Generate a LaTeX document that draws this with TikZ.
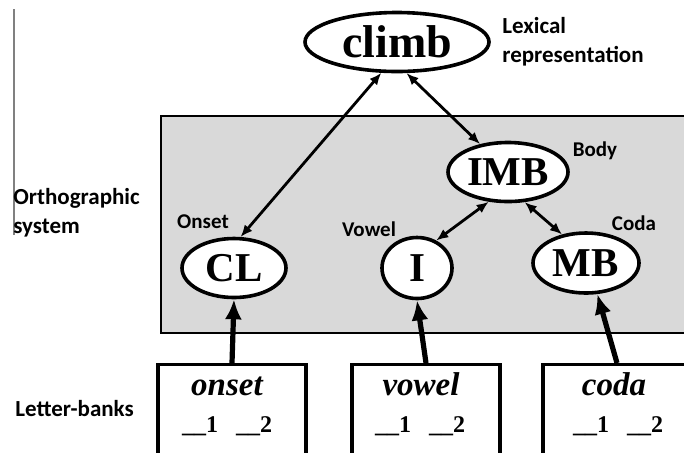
\documentclass[tikz,border=0pt]{standalone}
\usepackage{fontspec}
\setmainfont{Carlito}
\newfontfamily\tnr{Liberation Serif}
\usetikzlibrary{arrows.meta,positioning,shapes.geometric}

\newcommand\blankpos[1]{\_\_#1}

\tikzset{
  unit/.style={ellipse, draw, line width=1.8pt, fill=white, inner sep=0pt,
    font=\tnr\bfseries\fontsize{20.5}{22}\selectfont},
  bankbox/.style={rectangle, draw, line width=1.6pt, fill=white,
    minimum width=74pt, minimum height=50pt, anchor=north},
  bankword/.style={anchor=base, inner sep=0pt,
    font=\tnr\bfseries\itshape\fontsize{16.5}{18}\selectfont},
  bankslots/.style={anchor=base, inner sep=0pt,
    font=\tnr\bfseries\fontsize{12}{13}\selectfont},
  lbl/.style={font=\bfseries\fontsize{10.5}{12}\selectfont, inner sep=0pt},
  biglbl/.style={font=\bfseries\fontsize{11.5}{14.5}\selectfont, align=left, inner sep=0pt},
  link/.style={{Latex[length=6pt,width=5pt]}-{Latex[length=6pt,width=5pt]}, line width=1.4pt},
  feed/.style={-{Latex[length=10pt,width=8.5pt]}, line width=2.6pt},
}

\begin{document}
\begin{tikzpicture}[x=0.5pt, y=-0.5pt]
\useasboundingbox (0,0) rectangle (684,452);
\clip (0,0) rectangle (684,452);

% thin rule at the left
\draw[black!50, line width=0.7pt] (14,9) -- (14,235);

% orthographic system
\draw[fill=black!15, line width=1pt] (161,116) rectangle (700,333);

\node[unit, minimum width=92pt, minimum height=29.5pt,
      font=\tnr\bfseries\fontsize{23}{25}\selectfont] (climb) at (397,42) {climb};
\node[unit, minimum width=60pt, minimum height=29.5pt] (IMB) at (508,172) {IMB};
\node[unit, minimum width=52pt, minimum height=29.5pt] (CL) at (234,268) {CL};
\node[unit, minimum width=35pt, minimum height=30.5pt] (I) at (417,268) {I};
\node[unit, minimum width=53pt, minimum height=30pt] (MB) at (586,263) {MB};

\node[lbl] (body) at (595,151) {Body};
\node[lbl] (onsetlbl) at (203,222) {Onset};
\node[lbl] (vowellbl) at (369,229) {Vowel};
\node[lbl] (codalbl) at (634,223) {Coda};

\node[biglbl, anchor=base west] (lexlbl) at (502,62) {Lexical\\representation};
\node[biglbl, anchor=base west] (ortholbl) at (13,233) {Orthographic\\system};
\node[biglbl, anchor=base west] (banklbl) at (15,416) {Letter-banks};

% letter-banks
\node[bankbox] (onsetbox) at (232,363) {};
\node[bankbox] (vowelbox) at (426,363) {};
\node[bankbox] (codabox) at (617,363) {};

\node[bankword] (onsetw) at (227,395) {onset};
\node[bankword] (vowelw) at (421,395) {vowel};
\node[bankword] (codaw) at (614,395) {coda};
\node[bankslots] (onsets) at (227,432) {\blankpos{1}\hspace{9pt}\blankpos{2}};
\node[bankslots] (vowels) at (420,432) {\blankpos{1}\hspace{9pt}\blankpos{2}};
\node[bankslots] (codas) at (618,432) {\blankpos{1}\hspace{9pt}\blankpos{2}};

% connections
\draw[link] (climb.243) -- (CL.78);
\draw[link] (climb.287) -- (IMB.135);
\draw[link] (IMB.237) -- (I.55);
\draw[link] (IMB.299) -- (MB.130);

\draw[feed] (onsetbox.north) -- (CL.south);
\draw[feed] (vowelbox.north) -- (I.south);
\draw[feed] (codabox.north) -- (MB.290);
\end{tikzpicture}
\end{document}
